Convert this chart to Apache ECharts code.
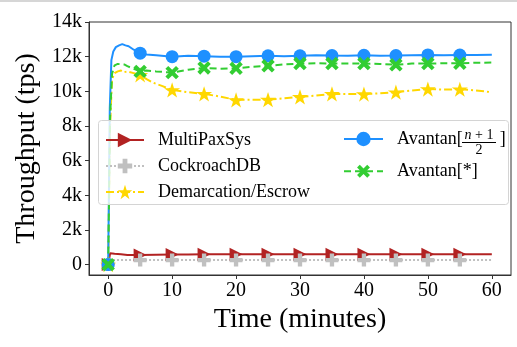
<!DOCTYPE html>
<html><head><meta charset="utf-8">
<script src="https://cdn.jsdelivr.net/npm/echarts@6/dist/echarts.min.js"></script>
<style>html,body{margin:0;padding:0;background:#fff}#c{width:517px;height:347px}</style>
</head><body><div id="c"></div>
<script>
// ---- data ----
const redT = [0, 0.3, 1, 2, 3, 5, 7.5, 10, 12.5, 15, 17.5, 20, 22.5, 25, 27.5, 30, 32.5, 35, 37.5, 40, 42.5, 45, 47.5, 50, 52.5, 55, 57.5, 60];
const redV = [0, 650, 620, 600, 560, 560, 570, 580, 590, 600, 600, 600, 600, 600, 600, 600, 600, 600, 600, 600, 600, 600, 600, 600, 600, 600, 600, 600];
const grayT = [0, 0.3, 5, 10, 15, 20, 25, 30, 35, 40, 45, 50, 55, 60];
const grayV = [0, 270, 260, 260, 260, 260, 260, 260, 260, 260, 260, 260, 260, 260];
const yelT = [0, 0.3, 0.6, 1, 1.5, 2, 2.5, 3, 4, 5, 6, 7, 8.5, 10, 12.5, 15, 17.5, 20, 22.5, 25, 27.5, 30, 32.5, 35, 37.5, 40, 42.5, 45, 47.5, 50, 52.5, 55, 57.5, 60];
const yelV = [0, 8000, 10700, 11050, 11150, 11200, 11100, 11150, 11050, 10950, 10700, 10500, 10300, 10080, 9950, 9850, 9700, 9500, 9520, 9520, 9600, 9680, 9750, 9850, 9850, 9840, 9880, 9950, 10050, 10130, 10100, 10120, 10050, 9950];
const bluT = [0, 0.25, 0.5, 0.8, 1.2, 1.7, 2.2, 2.7, 3.2, 4, 5, 6, 7.5, 10, 12.5, 15, 17.5, 20, 22.5, 25, 27.5, 30, 32.5, 35, 37.5, 40, 42.5, 45, 47.5, 50, 52.5, 55, 57.5, 60];
const bluV = [0, 9000, 11800, 12300, 12550, 12650, 12720, 12650, 12600, 12400, 12200, 12120, 12080, 12000, 12050, 12030, 12000, 12000, 12030, 12050, 12030, 12050, 12080, 12060, 12050, 12080, 12050, 12060, 12080, 12100, 12080, 12090, 12100, 12110];
const grnT = [0, 0.3, 0.6, 1, 1.5, 2, 2.5, 3, 4, 5, 6, 7.5, 10, 12.5, 15, 17.5, 20, 22.5, 25, 27.5, 30, 32.5, 35, 37.5, 40, 42.5, 45, 47.5, 50, 52.5, 55, 57.5, 60];
const grnV = [0, 8500, 11000, 11500, 11580, 11560, 11550, 11450, 11300, 11150, 11200, 11150, 11080, 11250, 11350, 11300, 11330, 11420, 11470, 11550, 11600, 11620, 11600, 11600, 11600, 11580, 11530, 11600, 11600, 11620, 11620, 11650, 11660];
const seriesNames = ['MultiPaxSys', 'CockroachDB', 'Demarcation/Escrow', 'Avantan[(n+1)/2]', 'Avantan[*]'];
const xTicks = [0, 10, 20, 30, 40, 50, 60];
const yTicks = [0, 2000, 4000, 6000, 8000, 10000, 12000, 14000];

function build(ts, vs) {
  return ts.map((t, i) => (t % 5 === 0 && t < 60) ? [t, vs[i]] : { value: [t, vs[i]], symbol: 'none' });
}
const FONT = 'Liberation Serif';
const plus = 'path://M-1,-3H1V-1H3V1H1V3H-1V1H-3V-1H-1Z';
const cross = 'path://M-0.8,-3H0.8V-0.8H3V0.8H0.8V3H-0.8V0.8H-3V-0.8H-0.8Z';
const star = 'path://M0,-1L0.2245,-0.309L0.951,-0.309L0.363,0.118L0.588,0.809L0,0.382L-0.588,0.809L-0.363,0.118L-0.951,-0.309L-0.2245,-0.309Z';

const chart = echarts.init(document.getElementById('c'), null, { renderer: 'canvas' });
function mk(name, ts, vs, color, lt, symbol, size, rot) {
  return {
    name, type: 'line', data: build(ts, vs), showSymbol: true, showAllSymbol: true,
    symbol, symbolSize: size, symbolRotate: rot || 0, symbolKeepAspect: true,
    lineStyle: { color, width: 2, type: lt }, itemStyle: { color, opacity: 1 },
    animation: false, z: 2
  };
}
const legText = { fontFamily: FONT, fontSize: 18, color: '#000', lineHeight: 20, padding: [0, 0, 0, 9] };
chart.setOption({
  animation: false,
  grid: { left: 89, top: 22, right: 6, bottom: 72, show: true, borderColor: '#333', borderWidth: 1 },
  xAxis: {
    type: 'value', min: -3, max: 63,
    name: 'Time (minutes)', nameLocation: 'middle', nameGap: 29,
    nameTextStyle: { fontFamily: FONT, fontSize: 28, color: '#000' },
    axisLine: { show: true, onZero: false, lineStyle: { color: '#333' } },
    axisTick: { show: true, length: 4, customValues: xTicks, lineStyle: { color: '#333' } },
    axisLabel: { customValues: xTicks, fontFamily: FONT, fontSize: 20, color: '#000', margin: 6 },
    splitLine: { show: false }
  },
  yAxis: {
    type: 'value', min: -600, max: 14000,
    name: 'Throughput (tps)', nameLocation: 'middle', nameGap: 43,
    nameTextStyle: { fontFamily: FONT, fontSize: 28, color: '#000' },
    axisLine: { show: true, onZero: false, lineStyle: { color: '#333' } },
    axisTick: { show: true, length: 4, customValues: yTicks, lineStyle: { color: '#333' } },
    axisLabel: { customValues: yTicks, fontFamily: FONT, fontSize: 20, color: '#000', margin: 7,
      formatter: v => v === 0 ? '0' : (v / 1000) + 'k' },
    splitLine: { show: false }
  },
  legend: [
    { data: seriesNames.slice(0, 3), orient: 'vertical', left: 105, top: 130, padding: 0, itemWidth: 38, itemHeight: 18,
      itemGap: 6, textStyle: legText, z: 6 },
    { data: seriesNames.slice(3), orient: 'vertical', left: 343, top: 129, padding: 0, itemWidth: 39, itemHeight: 18,
      itemGap: 12, textStyle: Object.assign({}, legText, { rich: { gap: { width: 37, fontSize: 18 } } }), z: 6,
      formatter: n => n === 'Avantan[(n+1)/2]' ? 'Avantan[{gap|}]' : n }
  ],
  graphic: [
    { type: 'line', shape: { x1: 0, y1: 1, x2: 517, y2: 1 }, style: { stroke: '#c8c8c8', lineWidth: 1.5 }, z: 1 },
    { type: 'rect', shape: { x: 98.5, y: 120.5, width: 410, height: 84, r: 3 }, style: { fill: 'rgba(255,255,255,0.8)', stroke: '#d4d4d4', lineWidth: 1 }, z: 3 },
    { type: 'text', x: 479, y: 135, z: 7, style: { text: '{i|n} + 1', fontFamily: FONT, fontSize: 14, fill: '#000', align: 'center', verticalAlign: 'middle', rich: { i: { fontStyle: 'italic', fontFamily: FONT, fontSize: 14 } } } },
    { type: 'line', shape: { x1: 462, y1: 142.5, x2: 496, y2: 142.5 }, style: { stroke: '#000', lineWidth: 1 }, z: 7 },
    { type: 'text', x: 479, y: 150, z: 7, style: { text: '2', fontFamily: FONT, fontSize: 14, fill: '#000', align: 'center', verticalAlign: 'middle' } }
  ],
  series: [
    mk(seriesNames[0], redT, redV, '#b22222', 'solid', 'triangle', 13, -90),
    mk(seriesNames[1], grayT, grayV, '#c0c0c0', 'dotted', plus, 13, 0),
    mk(seriesNames[2], yelT, yelV, '#ffd700', [8, 3, 2, 3], star, 16, 0),
    mk(seriesNames[3], bluT, bluV, '#1e90ff', 'solid', 'circle', 13, 0),
    mk(seriesNames[4], grnT, grnV, '#32cd32', [7, 4], cross, 15, 45)
  ]
});
</script></body></html>
